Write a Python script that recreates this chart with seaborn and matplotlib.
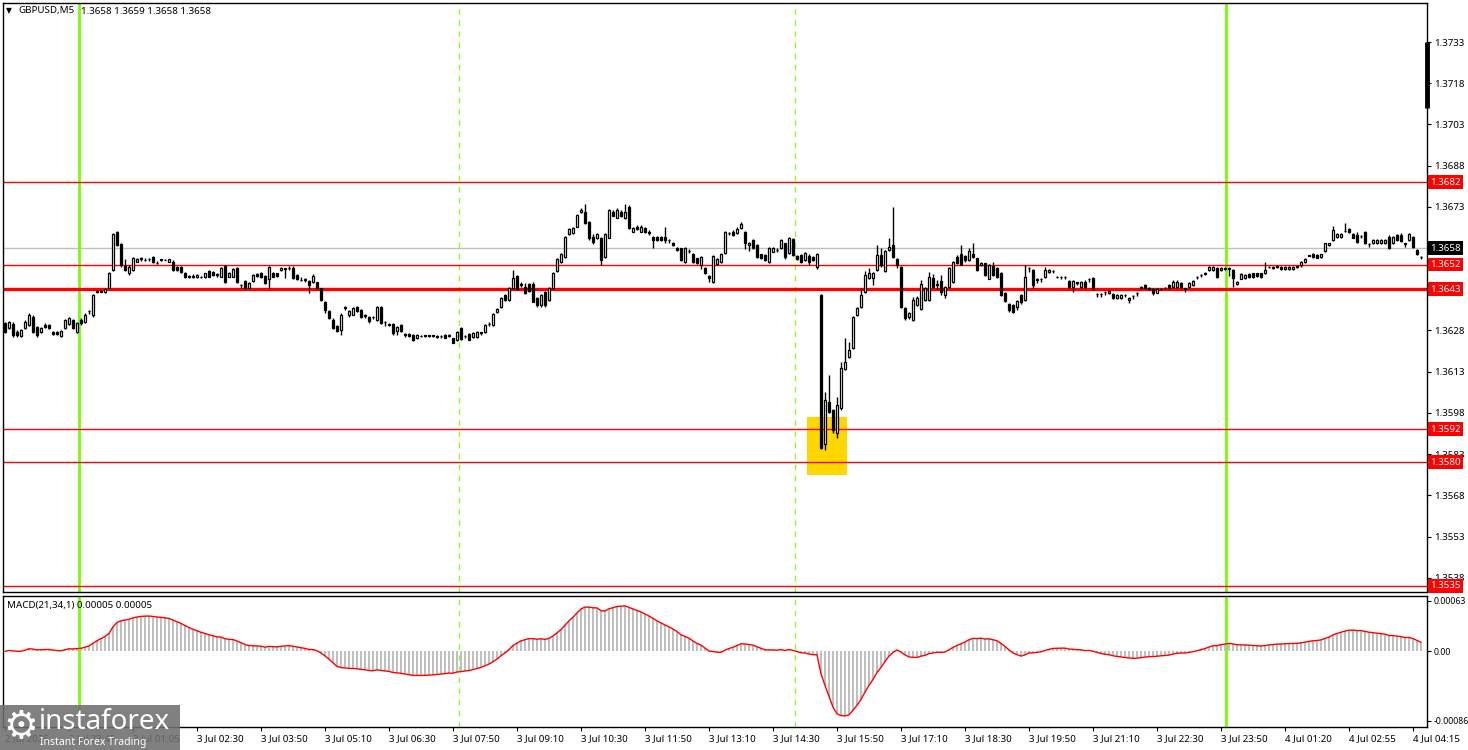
import numpy as np
import pandas as pd
import matplotlib
matplotlib.use("Agg")
import matplotlib.pyplot as plt
import matplotlib.transforms as mtransforms
from matplotlib.patches import Rectangle
import seaborn as sns

# ---------------- data (GBPUSD M5) ----------------
opens = [
    1.36306, 1.36288, 1.36302, 1.36275, 1.36260, 1.36288, 1.36300, 1.36329, 1.36294, 1.36273,
    1.36300, 1.36300, 1.36275, 1.36275, 1.36260, 1.36288, 1.36304, 1.36318, 1.36275, 1.36318,
    1.36312, 1.36350, 1.36335, 1.36421, 1.36425, 1.36421, 1.36436, 1.36500, 1.36637, 1.36593,
    1.36516, 1.36488, 1.36500, 1.36530, 1.36542, 1.36537, 1.36539, 1.36548, 1.36526, 1.36539,
    1.36538, 1.36530, 1.36528, 1.36512, 1.36512, 1.36488, 1.36480, 1.36480, 1.36475, 1.36475,
    1.36473, 1.36497, 1.36494, 1.36484, 1.36476, 1.36516, 1.36476, 1.36476, 1.36508, 1.36447,
    1.36460, 1.36436, 1.36460, 1.36484, 1.36490, 1.36479, 1.36467, 1.36490, 1.36488, 1.36500,
    1.36506, 1.36508, 1.36508, 1.36482, 1.36465, 1.36468, 1.36460, 1.36457, 1.36455, 1.36433,
    1.36382, 1.36351, 1.36318, 1.36298, 1.36281, 1.36364, 1.36338, 1.36338, 1.36366, 1.36354,
    1.36335, 1.36330, 1.36329, 1.36318, 1.36366, 1.36310, 1.36302, 1.36304, 1.36277, 1.36300,
    1.36266, 1.36266, 1.36263, 1.36251, 1.36260, 1.36262, 1.36263, 1.36263, 1.36259, 1.36260,
    1.36265, 1.36262, 1.36251, 1.36245, 1.36288, 1.36260, 1.36266, 1.36255, 1.36257, 1.36273,
    1.36273, 1.36305, 1.36300, 1.36348, 1.36366, 1.36409, 1.36391, 1.36433, 1.36478, 1.36448,
    1.36439, 1.36448, 1.36448, 1.36397, 1.36373, 1.36421, 1.36391, 1.36435, 1.36496, 1.36530,
    1.36548, 1.36630, 1.36633, 1.36658, 1.36710, 1.36712, 1.36676, 1.36621, 1.36615, 1.36615,
    1.36548, 1.36618, 1.36712, 1.36691, 1.36712, 1.36688, 1.36729, 1.36640, 1.36658, 1.36640,
    1.36652, 1.36640, 1.36621, 1.36621, 1.36621, 1.36621, 1.36610, 1.36599, 1.36581, 1.36579,
    1.36530, 1.36570, 1.36557, 1.36542, 1.36518, 1.36508, 1.36479, 1.36457, 1.36521, 1.36530,
    1.36561, 1.36633, 1.36640, 1.36633, 1.36652, 1.36640, 1.36591, 1.36609, 1.36591, 1.36557,
    1.36555, 1.36530, 1.36567, 1.36573, 1.36579, 1.36597, 1.36561, 1.36613, 1.36552, 1.36555,
    1.36536, 1.36552, 1.36548, 1.36512, 1.36409, 1.35866, 1.36021, 1.35990, 1.35905, 1.35996,
    1.36139, 1.36184, 1.36217, 1.36336, 1.36366, 1.36421, 1.36470, 1.36470, 1.36500, 1.36555,
    1.36496, 1.36573, 1.36591, 1.36540, 1.36512, 1.36360, 1.36330, 1.36318, 1.36373, 1.36358,
    1.36391, 1.36391, 1.36472, 1.36448, 1.36460, 1.36409, 1.36439, 1.36457, 1.36548, 1.36557,
    1.36552, 1.36536, 1.36560, 1.36542, 1.36518, 1.36524, 1.36469, 1.36516, 1.36508, 1.36488,
    1.36418, 1.36378, 1.36372, 1.36366, 1.36409, 1.36391, 1.36509, 1.36500, 1.36466, 1.36468,
    1.36475, 1.36494, 1.36498, 1.36476, 1.36476, 1.36474, 1.36460, 1.36439, 1.36455, 1.36439,
    1.36457, 1.36469, 1.36472, 1.36414, 1.36414, 1.36420, 1.36415, 1.36411, 1.36397, 1.36397,
    1.36409, 1.36391, 1.36406, 1.36416, 1.36437, 1.36445, 1.36433, 1.36431, 1.36418, 1.36431,
    1.36436, 1.36445, 1.36439, 1.36439, 1.36451, 1.36433, 1.36439, 1.36445, 1.36476, 1.36482,
    1.36488, 1.36500, 1.36500, 1.36508, 1.36500, 1.36506, 1.36506, 1.36500, 1.36448, 1.36469,
    1.36472, 1.36484, 1.36488, 1.36488, 1.36488, 1.36488, 1.36512, 1.36510, 1.36513, 1.36512,
    1.36504, 1.36504, 1.36504, 1.36512, 1.36520, 1.36530, 1.36554, 1.36558, 1.36554, 1.36548,
    1.36569, 1.36591, 1.36609, 1.36621, 1.36621, 1.36643, 1.36649, 1.36630, 1.36627, 1.36624,
    1.36639, 1.36594, 1.36597, 1.36597, 1.36597, 1.36597, 1.36621, 1.36597, 1.36627, 1.36627,
    1.36597, 1.36609, 1.36621, 1.36573, 1.36548,
]
highs = [
    1.36312, 1.36315, 1.36310, 1.36280, 1.36285, 1.36318, 1.36343, 1.36335, 1.36298, 1.36294,
    1.36306, 1.36304, 1.36279, 1.36279, 1.36281, 1.36323, 1.36330, 1.36323, 1.36310, 1.36325,
    1.36343, 1.36355, 1.36413, 1.36425, 1.36427, 1.36433, 1.36492, 1.36635, 1.36642, 1.36600,
    1.36540, 1.36518, 1.36546, 1.36542, 1.36546, 1.36542, 1.36542, 1.36550, 1.36532, 1.36541,
    1.36540, 1.36541, 1.36535, 1.36515, 1.36516, 1.36492, 1.36483, 1.36484, 1.36485, 1.36479,
    1.36491, 1.36500, 1.36497, 1.36488, 1.36512, 1.36519, 1.36494, 1.36508, 1.36512, 1.36449,
    1.36463, 1.36455, 1.36486, 1.36488, 1.36494, 1.36483, 1.36516, 1.36493, 1.36491, 1.36512,
    1.36509, 1.36513, 1.36514, 1.36485, 1.36476, 1.36472, 1.36463, 1.36485, 1.36458, 1.36436,
    1.36388, 1.36354, 1.36324, 1.36301, 1.36342, 1.36370, 1.36356, 1.36366, 1.36369, 1.36357,
    1.36339, 1.36333, 1.36334, 1.36370, 1.36370, 1.36314, 1.36306, 1.36307, 1.36295, 1.36304,
    1.36269, 1.36269, 1.36266, 1.36266, 1.36264, 1.36265, 1.36265, 1.36265, 1.36262, 1.36265,
    1.36268, 1.36268, 1.36254, 1.36278, 1.36291, 1.36265, 1.36269, 1.36273, 1.36278, 1.36276,
    1.36304, 1.36310, 1.36344, 1.36360, 1.36402, 1.36413, 1.36437, 1.36500, 1.36483, 1.36455,
    1.36454, 1.36452, 1.36455, 1.36402, 1.36413, 1.36425, 1.36437, 1.36492, 1.36544, 1.36561,
    1.36625, 1.36653, 1.36656, 1.36704, 1.36725, 1.36739, 1.36680, 1.36632, 1.36635, 1.36620,
    1.36635, 1.36723, 1.36720, 1.36725, 1.36718, 1.36739, 1.36736, 1.36658, 1.36665, 1.36664,
    1.36658, 1.36644, 1.36625, 1.36625, 1.36624, 1.36655, 1.36614, 1.36603, 1.36584, 1.36582,
    1.36585, 1.36576, 1.36561, 1.36545, 1.36552, 1.36512, 1.36483, 1.36555, 1.36544, 1.36561,
    1.36641, 1.36640, 1.36644, 1.36658, 1.36675, 1.36643, 1.36603, 1.36612, 1.36595, 1.36560,
    1.36558, 1.36585, 1.36585, 1.36579, 1.36613, 1.36600, 1.36622, 1.36617, 1.36555, 1.36558,
    1.36565, 1.36560, 1.36552, 1.36561, 1.36413, 1.36057, 1.36118, 1.35995, 1.36039, 1.36166,
    1.36251, 1.36239, 1.36334, 1.36365, 1.36433, 1.36495, 1.36506, 1.36494, 1.36591, 1.36580,
    1.36573, 1.36615, 1.36730, 1.36543, 1.36515, 1.36364, 1.36348, 1.36400, 1.36405, 1.36464,
    1.36440, 1.36494, 1.36485, 1.36464, 1.36482, 1.36443, 1.36510, 1.36533, 1.36554, 1.36591,
    1.36555, 1.36580, 1.36597, 1.36545, 1.36528, 1.36527, 1.36522, 1.36530, 1.36512, 1.36492,
    1.36421, 1.36381, 1.36375, 1.36391, 1.36412, 1.36520, 1.36512, 1.36503, 1.36470, 1.36470,
    1.36512, 1.36503, 1.36501, 1.36480, 1.36479, 1.36477, 1.36464, 1.36464, 1.36458, 1.36460,
    1.36462, 1.36472, 1.36475, 1.36417, 1.36417, 1.36423, 1.36428, 1.36415, 1.36413, 1.36413,
    1.36414, 1.36400, 1.36410, 1.36419, 1.36442, 1.36449, 1.36438, 1.36434, 1.36434, 1.36435,
    1.36440, 1.36448, 1.36462, 1.36462, 1.36455, 1.36436, 1.36455, 1.36464, 1.36479, 1.36485,
    1.36492, 1.36516, 1.36516, 1.36512, 1.36512, 1.36512, 1.36510, 1.36503, 1.36460, 1.36488,
    1.36485, 1.36488, 1.36491, 1.36491, 1.36491, 1.36530, 1.36516, 1.36513, 1.36518, 1.36516,
    1.36515, 1.36515, 1.36515, 1.36516, 1.36534, 1.36543, 1.36556, 1.36561, 1.36557, 1.36560,
    1.36600, 1.36600, 1.36660, 1.36634, 1.36634, 1.36670, 1.36653, 1.36634, 1.36640, 1.36628,
    1.36642, 1.36597, 1.36612, 1.36612, 1.36612, 1.36612, 1.36627, 1.36625, 1.36630, 1.36633,
    1.36600, 1.36633, 1.36624, 1.36576, 1.36551,
]
lows = [
    1.36270, 1.36285, 1.36258, 1.36257, 1.36257, 1.36285, 1.36295, 1.36270, 1.36257, 1.36270,
    1.36288, 1.36287, 1.36263, 1.36263, 1.36257, 1.36285, 1.36300, 1.36285, 1.36272, 1.36300,
    1.36306, 1.36340, 1.36328, 1.36415, 1.36419, 1.36418, 1.36433, 1.36495, 1.36586, 1.36510,
    1.36495, 1.36483, 1.36496, 1.36528, 1.36534, 1.36532, 1.36533, 1.36525, 1.36523, 1.36532,
    1.36535, 1.36528, 1.36495, 1.36496, 1.36490, 1.36472, 1.36472, 1.36472, 1.36472, 1.36470,
    1.36470, 1.36473, 1.36479, 1.36476, 1.36473, 1.36454, 1.36473, 1.36473, 1.36454, 1.36435,
    1.36430, 1.36433, 1.36456, 1.36474, 1.36472, 1.36448, 1.36433, 1.36473, 1.36476, 1.36497,
    1.36470, 1.36500, 1.36467, 1.36464, 1.36459, 1.36458, 1.36417, 1.36454, 1.36430, 1.36388,
    1.36343, 1.36320, 1.36285, 1.36273, 1.36265, 1.36355, 1.36330, 1.36335, 1.36348, 1.36327,
    1.36325, 1.36308, 1.36322, 1.36315, 1.36303, 1.36298, 1.36296, 1.36265, 1.36262, 1.36274,
    1.36257, 1.36257, 1.36240, 1.36248, 1.36255, 1.36256, 1.36258, 1.36258, 1.36253, 1.36254,
    1.36251, 1.36257, 1.36233, 1.36242, 1.36244, 1.36254, 1.36244, 1.36252, 1.36253, 1.36265,
    1.36270, 1.36298, 1.36297, 1.36345, 1.36363, 1.36388, 1.36388, 1.36430, 1.36428, 1.36440,
    1.36412, 1.36420, 1.36382, 1.36366, 1.36366, 1.36366, 1.36388, 1.36432, 1.36493, 1.36527,
    1.36545, 1.36627, 1.36630, 1.36655, 1.36707, 1.36667, 1.36610, 1.36595, 1.36612, 1.36518,
    1.36544, 1.36615, 1.36695, 1.36688, 1.36692, 1.36685, 1.36649, 1.36637, 1.36647, 1.36637,
    1.36633, 1.36629, 1.36580, 1.36605, 1.36605, 1.36597, 1.36598, 1.36587, 1.36570, 1.36532,
    1.36527, 1.36563, 1.36527, 1.36521, 1.36503, 1.36484, 1.36458, 1.36454, 1.36517, 1.36526,
    1.36558, 1.36627, 1.36624, 1.36630, 1.36649, 1.36575, 1.36568, 1.36575, 1.36545, 1.36539,
    1.36533, 1.36527, 1.36564, 1.36566, 1.36576, 1.36540, 1.36558, 1.36552, 1.36537, 1.36527,
    1.36533, 1.36518, 1.36533, 1.36505, 1.35847, 1.35845, 1.35980, 1.35905, 1.35887, 1.35992,
    1.36135, 1.36180, 1.36213, 1.36332, 1.36363, 1.36418, 1.36467, 1.36445, 1.36497, 1.36512,
    1.36493, 1.36570, 1.36545, 1.36506, 1.36360, 1.36318, 1.36320, 1.36315, 1.36370, 1.36355,
    1.36388, 1.36388, 1.36433, 1.36430, 1.36409, 1.36399, 1.36435, 1.36454, 1.36521, 1.36517,
    1.36530, 1.36533, 1.36545, 1.36497, 1.36515, 1.36479, 1.36466, 1.36479, 1.36472, 1.36406,
    1.36384, 1.36348, 1.36342, 1.36354, 1.36378, 1.36388, 1.36492, 1.36433, 1.36452, 1.36455,
    1.36472, 1.36491, 1.36490, 1.36470, 1.36468, 1.36466, 1.36436, 1.36421, 1.36445, 1.36436,
    1.36433, 1.36458, 1.36429, 1.36403, 1.36403, 1.36409, 1.36412, 1.36396, 1.36394, 1.36394,
    1.36403, 1.36380, 1.36394, 1.36406, 1.36432, 1.36430, 1.36428, 1.36410, 1.36415, 1.36426,
    1.36431, 1.36430, 1.36436, 1.36436, 1.36436, 1.36421, 1.36436, 1.36442, 1.36469, 1.36475,
    1.36483, 1.36497, 1.36497, 1.36472, 1.36497, 1.36500, 1.36480, 1.36439, 1.36445, 1.36466,
    1.36469, 1.36472, 1.36472, 1.36476, 1.36472, 1.36485, 1.36506, 1.36502, 1.36507, 1.36501,
    1.36501, 1.36501, 1.36501, 1.36509, 1.36512, 1.36527, 1.36550, 1.36545, 1.36542, 1.36545,
    1.36566, 1.36588, 1.36606, 1.36618, 1.36618, 1.36639, 1.36636, 1.36615, 1.36600, 1.36618,
    1.36594, 1.36585, 1.36594, 1.36594, 1.36594, 1.36594, 1.36576, 1.36594, 1.36606, 1.36602,
    1.36585, 1.36606, 1.36582, 1.36554, 1.36539,
]
closes = [
    1.36275, 1.36312, 1.36263, 1.36263, 1.36281, 1.36312, 1.36338, 1.36275, 1.36263, 1.36288,
    1.36294, 1.36290, 1.36266, 1.36266, 1.36277, 1.36317, 1.36326, 1.36288, 1.36306, 1.36306,
    1.36338, 1.36351, 1.36409, 1.36423, 1.36421, 1.36430, 1.36488, 1.36630, 1.36591, 1.36518,
    1.36500, 1.36512, 1.36542, 1.36539, 1.36539, 1.36538, 1.36539, 1.36528, 1.36527, 1.36538,
    1.36538, 1.36539, 1.36500, 1.36500, 1.36494, 1.36476, 1.36475, 1.36475, 1.36482, 1.36476,
    1.36488, 1.36476, 1.36482, 1.36483, 1.36508, 1.36457, 1.36490, 1.36504, 1.36457, 1.36446,
    1.36433, 1.36451, 1.36482, 1.36479, 1.36476, 1.36451, 1.36512, 1.36476, 1.36479, 1.36508,
    1.36505, 1.36507, 1.36470, 1.36467, 1.36464, 1.36463, 1.36445, 1.36479, 1.36433, 1.36391,
    1.36354, 1.36326, 1.36288, 1.36278, 1.36338, 1.36363, 1.36351, 1.36360, 1.36351, 1.36330,
    1.36334, 1.36314, 1.36328, 1.36366, 1.36306, 1.36309, 1.36301, 1.36269, 1.36291, 1.36278,
    1.36265, 1.36260, 1.36245, 1.36263, 1.36259, 1.36261, 1.36260, 1.36260, 1.36258, 1.36259,
    1.36254, 1.36261, 1.36236, 1.36275, 1.36248, 1.36259, 1.36247, 1.36269, 1.36275, 1.36272,
    1.36300, 1.36305, 1.36340, 1.36357, 1.36397, 1.36391, 1.36433, 1.36470, 1.36431, 1.36447,
    1.36415, 1.36423, 1.36385, 1.36373, 1.36409, 1.36373, 1.36433, 1.36488, 1.36540, 1.36557,
    1.36621, 1.36648, 1.36652, 1.36700, 1.36718, 1.36670, 1.36618, 1.36603, 1.36630, 1.36536,
    1.36630, 1.36718, 1.36698, 1.36718, 1.36698, 1.36712, 1.36652, 1.36652, 1.36650, 1.36658,
    1.36637, 1.36633, 1.36609, 1.36609, 1.36609, 1.36609, 1.36609, 1.36591, 1.36573, 1.36536,
    1.36581, 1.36569, 1.36530, 1.36524, 1.36548, 1.36488, 1.36470, 1.36551, 1.36540, 1.36557,
    1.36637, 1.36634, 1.36627, 1.36649, 1.36667, 1.36597, 1.36597, 1.36579, 1.36548, 1.36542,
    1.36536, 1.36581, 1.36581, 1.36572, 1.36609, 1.36548, 1.36618, 1.36555, 1.36540, 1.36530,
    1.36561, 1.36530, 1.36536, 1.36557, 1.35851, 1.36027, 1.35984, 1.35917, 1.36009, 1.36142,
    1.36166, 1.36209, 1.36330, 1.36360, 1.36409, 1.36482, 1.36488, 1.36488, 1.36555, 1.36518,
    1.36569, 1.36585, 1.36548, 1.36518, 1.36366, 1.36327, 1.36342, 1.36391, 1.36397, 1.36448,
    1.36433, 1.36476, 1.36439, 1.36447, 1.36419, 1.36439, 1.36506, 1.36528, 1.36524, 1.36520,
    1.36536, 1.36569, 1.36548, 1.36500, 1.36524, 1.36482, 1.36518, 1.36482, 1.36475, 1.36409,
    1.36387, 1.36354, 1.36348, 1.36387, 1.36384, 1.36475, 1.36508, 1.36445, 1.36465, 1.36467,
    1.36500, 1.36500, 1.36497, 1.36475, 1.36475, 1.36473, 1.36439, 1.36460, 1.36454, 1.36457,
    1.36439, 1.36468, 1.36433, 1.36413, 1.36413, 1.36419, 1.36423, 1.36399, 1.36409, 1.36409,
    1.36408, 1.36397, 1.36405, 1.36415, 1.36436, 1.36433, 1.36432, 1.36418, 1.36431, 1.36430,
    1.36435, 1.36433, 1.36457, 1.36457, 1.36439, 1.36432, 1.36451, 1.36460, 1.36475, 1.36481,
    1.36487, 1.36512, 1.36512, 1.36475, 1.36508, 1.36505, 1.36505, 1.36470, 1.36457, 1.36484,
    1.36482, 1.36475, 1.36475, 1.36479, 1.36475, 1.36500, 1.36511, 1.36509, 1.36512, 1.36504,
    1.36512, 1.36512, 1.36512, 1.36513, 1.36530, 1.36540, 1.36552, 1.36548, 1.36545, 1.36557,
    1.36597, 1.36597, 1.36645, 1.36630, 1.36630, 1.36642, 1.36639, 1.36618, 1.36603, 1.36623,
    1.36597, 1.36593, 1.36609, 1.36609, 1.36609, 1.36609, 1.36579, 1.36621, 1.36609, 1.36605,
    1.36596, 1.36630, 1.36585, 1.36557, 1.36547,
]

levels_thin = [1.3682, 1.3652, 1.3592, 1.3580, 1.3535]
levels_thick = [1.3643]
bid_price = 1.3658
day_separators = [18.5, 305.25]
session_markers = [113.5, 197.5]
zone_bars = [200.5, 210.5]
zone_prices = [1.35754, 1.35965]
scale_marker = [1.37090, 1.37330]
price_ticks = [1.3733, 1.3718, 1.3703, 1.3688, 1.3673, 1.3658, 1.3643,
               1.3628, 1.3613, 1.3598, 1.3583, 1.3568, 1.3553, 1.3538]
price_range = [1.35328, 1.37472]
macd_ticks = [0.00063, 0.0, -0.00086]
macd_tick_labels = ["0.00063", "0.00", "-0.00086"]
macd_range = [-0.000939, 0.000689]
time_labels = ["2 Jul 2025", "2 Jul 23:45", "3 Jul 01:05", "3 Jul 02:30", "3 Jul 03:50",
               "3 Jul 05:10", "3 Jul 06:30", "3 Jul 07:50", "3 Jul 09:10", "3 Jul 10:30",
               "3 Jul 11:50", "3 Jul 13:10", "3 Jul 14:30", "3 Jul 15:50", "3 Jul 17:10",
               "3 Jul 18:30", "3 Jul 19:50", "3 Jul 21:10", "3 Jul 22:30", "3 Jul 23:50",
               "4 Jul 01:20", "4 Jul 02:55", "4 Jul 04:15"]
time_label_bars = [0, 16, 32, 48, 64, 80, 96, 112, 128, 144, 160, 176, 192, 208,
                   224, 240, 256, 272, 288, 304, 320, 336, 352]

# ---------------- styling ----------------
sns.set_style("white")
plt.rcParams['font.family'] = ['Noto Sans', 'DejaVu Sans']
plt.rcParams['axes.linewidth'] = 1.0

W, H = 1468, 750
fig = plt.figure(figsize=(W / 100, H / 100), dpi=100)
fig.patch.set_facecolor('white')

ax = fig.add_axes([3 / W, 1 - 592 / H, 1424 / W, 589 / H])
ax2 = fig.add_axes([3 / W, 1 - 727 / H, 1424 / W, 131 / H])

df = pd.DataFrame({"o": opens, "h": highs, "l": lows, "c": closes})
df["i"] = np.arange(len(df))
n = len(df)
xlim = (-0.5, n + 0.5)

GREEN = '#7cfc00'
FS = 7.0

for a in (ax, ax2):
    a.set_xlim(*xlim)
    a.set_facecolor('white')
    for s in a.spines.values():
        s.set_color('black')
        s.set_linewidth(1.0)
    for xv in day_separators:
        a.axvline(xv, color=GREEN, lw=2.0, zorder=1.2)
    for xv in session_markers:
        a.axvline(xv, color=GREEN, lw=1.0, ls=(0, (4, 4)), zorder=1.2, alpha=0.85)

# ---------------- main price panel ----------------
ax.set_ylim(*price_range)
ax.axhline(bid_price, color='#c0c0c0', lw=1.0, zorder=1.1)
ax.add_patch(Rectangle((zone_bars[0], zone_prices[0]), zone_bars[1] - zone_bars[0],
                       zone_prices[1] - zone_prices[0], facecolor='#ffd700',
                       edgecolor='none', zorder=1.3))
for lv in levels_thin:
    ax.axhline(lv, color='#ff0000', lw=1.0, zorder=1.4)
for lv in levels_thick:
    ax.axhline(lv, color='#ff0000', lw=2.4, zorder=1.4)

up = df[df.c >= df.o]
dn = df[df.c < df.o]
ax.vlines(df.i, df.l, df.h, color='black', lw=1.0, zorder=2)
ax.bar(up.i, up.c - up.o, bottom=up.o, width=0.62, facecolor='white',
       edgecolor='black', linewidth=0.9, zorder=3)
ax.bar(dn.i, dn.o - dn.c, bottom=dn.c, width=0.62, facecolor='black',
       edgecolor='black', linewidth=0.9, zorder=3)

ax.vlines(xlim[1], scale_marker[0], scale_marker[1], color='black', lw=3.5,
          zorder=6, clip_on=False)

# tick labels hidden where a price box fully covers them in the reference
covered = [bid_price] + levels_thick
ax.yaxis.tick_right()
ax.set_yticks(price_ticks)
ax.set_yticklabels(["" if any(abs(p - c) < 1e-6 for c in covered) else f"{p:.4f}"
                    for p in price_ticks])
ax.tick_params(axis='y', which='both', right=True, left=False, direction='out',
               length=3, width=0.8, labelsize=FS, pad=2.5, colors='black')
ax.tick_params(axis='x', bottom=False, labelbottom=False)

blend = mtransforms.blended_transform_factory(ax.transAxes, ax.transData)
for lv in levels_thin + levels_thick:
    ax.text(1.0024, lv, f"{lv:.4f}", transform=blend, ha='left', va='center',
            fontsize=FS, color='white', zorder=10, clip_on=False,
            bbox=dict(boxstyle='square,pad=0.25', facecolor='#ff0000', edgecolor='none'))
ax.text(1.0024, bid_price, f"{bid_price:.4f}", transform=blend, ha='left', va='center',
        fontsize=FS, color='white', zorder=10, clip_on=False,
        bbox=dict(boxstyle='square,pad=0.25', facecolor='black', edgecolor='none'))

fig.text(6 / W, 1 - 11 / H, "\u25bc", fontsize=5.5, color='black', va='center',
         family=['DejaVu Sans'])
fig.text(18 / W, 1 - 11 / H, "GBPUSD,M5", fontsize=FS, color='black', va='center')
fig.text(81 / W, 1 - 11 / H, "1.3658 1.3659 1.3658 1.3658", fontsize=FS,
         color='black', va='center')

# ---------------- MACD panel ----------------
close_s = pd.Series(closes)
macd = close_s.ewm(span=21, adjust=False).mean() - close_s.ewm(span=34, adjust=False).mean()
signal = macd.rolling(1).mean()
mdf = pd.DataFrame({"i": np.arange(n), "macd": macd.values, "signal": signal.values})

ax2.set_ylim(*macd_range)
ax2.bar(mdf.i, mdf.macd, width=0.5, color='#c0c0c0', linewidth=0, zorder=2)
sns.lineplot(data=mdf, x="i", y="signal", ax=ax2, color='#ff0000', lw=1.0, zorder=3)
ax2.set_xlabel("")
ax2.set_ylabel("")
ax2.set_xlim(*xlim)

ax2.yaxis.tick_right()
ax2.set_yticks(macd_ticks)
ax2.set_yticklabels(macd_tick_labels)
ax2.tick_params(axis='y', right=True, left=False, direction='out', length=3,
                width=0.8, labelsize=6.3, pad=2, colors='black')
ax2.set_xticks(time_label_bars)
ax2.set_xticklabels(time_labels)
for lab in ax2.get_xticklabels():
    lab.set_horizontalalignment('left')
ax2.tick_params(axis='x', bottom=True, direction='out', length=3, width=0.8,
                labelsize=FS, pad=2, colors='black')
ax2.text(0.003, 0.96, "MACD(21,34,1) 0.00005 0.00005", transform=ax2.transAxes,
         fontsize=FS, color='black', ha='left', va='top', zorder=10)

# ---------------- watermark logo ----------------
fig.add_artist(Rectangle((0, 0), 180 / W, 45 / H, transform=fig.transFigure,
                         facecolor='#6f6f6f', alpha=0.88, edgecolor='none', zorder=20))
fig.text(21 / W, 23 / H, "\u2699", fontsize=28, color='white', ha='center', va='center',
         family=['DejaVu Sans'], zorder=21)
fig.text(39 / W, 28 / H, "instaforex", fontsize=20, color='white', ha='left',
         va='center', zorder=21)
fig.text(40 / W, 8 / H, "Instant Forex Trading", fontsize=7.5, color='white',
         ha='left', va='center', zorder=21)

fig.savefig("out.png", dpi=100, facecolor='white')
